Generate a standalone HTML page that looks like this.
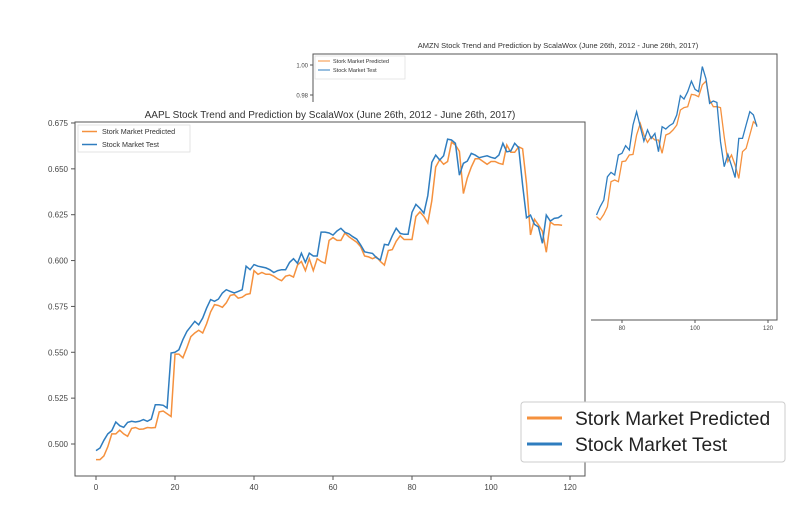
<!DOCTYPE html>
<html><head><meta charset="utf-8"><style>
html,body{margin:0;padding:0;background:#fff;}
svg{display:block;font-family:"Liberation Sans",sans-serif;}
</style></head><body>
<svg id="chart" width="807" height="509" viewBox="0 0 807 509">
<defs>
<clipPath id="amznClip"><rect x="313" y="54" width="464" height="266"/></clipPath>
<clipPath id="aaplClip"><rect x="76" y="123" width="509" height="353"/></clipPath>
</defs>
<g id="amzn"></g>
<rect x="0" y="102" width="591" height="407" fill="#fff"/>
<g id="aapl"></g>
<g>
<rect x="521" y="402" width="264" height="60" rx="3" fill="#fff" stroke="#ccc" stroke-width="1"/>
<line x1="527" y1="418" x2="562" y2="418" stroke="#f5913e" stroke-width="3"/>
<text x="575" y="425" font-size="19.2" fill="#222">Stork Market Predicted</text>
<line x1="527" y1="444" x2="562" y2="444" stroke="#2f7dbf" stroke-width="3"/>
<text x="575" y="451" font-size="19.2" fill="#222">Stock Market Test</text>
</g>
</svg>
<script>
const aaplTest=[0.4964,0.4978,0.5020,0.5055,0.5073,0.5120,0.5100,0.5091,0.5118,0.5124,0.5120,0.5124,0.5133,0.5124,0.5136,0.5214,0.5214,0.5211,0.5196,0.5496,0.5500,0.5514,0.5569,0.5614,0.5641,0.5669,0.5650,0.5687,0.5741,0.5787,0.5778,0.5790,0.5823,0.5841,0.5832,0.5823,0.5832,0.5841,0.5969,0.5950,0.5978,0.5969,0.5965,0.5960,0.5950,0.5935,0.5945,0.5950,0.5950,0.5990,0.6010,0.5985,0.6040,0.5990,0.6040,0.6025,0.6025,0.6155,0.6155,0.6150,0.6139,0.6161,0.6176,0.6154,0.6146,0.6130,0.6117,0.6085,0.6048,0.6043,0.6039,0.6016,0.6003,0.6088,0.6085,0.6135,0.6176,0.6148,0.6143,0.6143,0.6263,0.6306,0.6285,0.6258,0.6354,0.6535,0.6575,0.6548,0.6571,0.6662,0.6657,0.6639,0.6466,0.6530,0.6542,0.6584,0.6575,0.6561,0.6566,0.6571,0.6563,0.6557,0.6575,0.6639,0.6593,0.6597,0.6639,0.6615,0.6412,0.6233,0.6248,0.6197,0.6184,0.6094,0.6248,0.6215,0.6230,0.6233,0.6248];
const aaplPred=[0.4915,0.4915,0.4935,0.4985,0.5055,0.5055,0.5075,0.5055,0.5042,0.5085,0.5090,0.5080,0.5082,0.5090,0.5088,0.5090,0.5175,0.5180,0.5165,0.5150,0.5490,0.5490,0.5470,0.5525,0.5585,0.5605,0.5620,0.5605,0.5655,0.5720,0.5760,0.5755,0.5745,0.5770,0.5810,0.5815,0.5795,0.5800,0.5815,0.5820,0.5945,0.5925,0.5935,0.5925,0.5925,0.5915,0.5900,0.5890,0.5915,0.5920,0.5910,0.5975,0.5995,0.5945,0.6010,0.5945,0.6010,0.5995,0.5985,0.6110,0.6125,0.6110,0.6110,0.6150,0.6130,0.6115,0.6100,0.6075,0.6025,0.6020,0.6010,0.6020,0.5995,0.5975,0.6055,0.6060,0.6105,0.6135,0.6115,0.6115,0.6115,0.6240,0.6265,0.6240,0.6205,0.6325,0.6510,0.6550,0.6525,0.6540,0.6645,0.6630,0.6595,0.6365,0.6450,0.6510,0.6555,0.6555,0.6540,0.6525,0.6540,0.6540,0.6530,0.6525,0.6630,0.6590,0.6590,0.6620,0.6610,0.6420,0.6140,0.6225,0.6195,0.6160,0.6045,0.6210,0.6195,0.6195,0.6192];
const aaplYTicks=["0.500","0.525","0.550","0.575","0.600","0.625","0.650","0.675"];
const aaplXTicks=["0","20","40","60","80","100","120"];
const amznStart=73;
const amznTest=[0.9000,0.9055,0.9100,0.9255,0.9284,0.9267,0.9400,0.9411,0.9462,0.9433,0.9600,0.9689,0.9589,0.9493,0.9567,0.9511,0.9544,0.9422,0.9589,0.9573,0.9596,0.9611,0.9667,0.9795,0.9773,0.9822,0.9893,0.9838,0.9822,0.9989,0.9907,0.9744,0.9760,0.9751,0.9489,0.9322,0.9404,0.9329,0.9249,0.9511,0.9511,0.9600,0.9689,0.9667,0.9589];
const amznPred=[0.8989,0.8967,0.9004,0.9055,0.9222,0.9233,0.9222,0.9356,0.9360,0.9400,0.9404,0.9533,0.9611,0.9533,0.9484,0.9522,0.9500,0.9500,0.9411,0.9533,0.9544,0.9567,0.9600,0.9700,0.9716,0.9722,0.9804,0.9800,0.9789,0.9867,0.9893,0.9767,0.9722,0.9722,0.9716,0.9522,0.9356,0.9400,0.9333,0.9244,0.9422,0.9444,0.9533,0.9622,0.9600];
const amznYTicks=["0.98","1.00"];
const amznXTicks=["80","100","120"];

const NS="http://www.w3.org/2000/svg";
function mk(parent,tag,attrs){const e=document.createElementNS(NS,tag);for(const k in attrs)e.setAttribute(k,attrs[k]);parent.appendChild(e);return e;}
const ORANGE="#f5913e",BLUE="#2f7dbf";

const ax2=v=>622+(v-80)*3.65;
const ay2=v=>65+(1-v)*1500;
const amzn=document.getElementById('amzn');
let t=mk(amzn,'text',{x:558,y:48,'font-size':7.5,'text-anchor':'middle',fill:'#333'});
t.textContent="AMZN Stock Trend and Prediction by ScalaWox (June 26th, 2012 - June 26th, 2017)";


let fr=mk(amzn,'rect',{x:313,y:54,width:464,height:266,fill:'none',stroke:'#555','stroke-width':1});


amznYTicks.forEach(s=>{const y=ay2(parseFloat(s));
 const l=mk(amzn,'line',{x1:310,y1:y,x2:313,y2:y,stroke:'#555'});
 
 
 const tx=mk(amzn,'text',{x:308,y:y+2.5,'font-size':6,'text-anchor':'end',fill:'#444'});tx.textContent=s;
 
 });
amznXTicks.forEach(s=>{const x=ax2(parseFloat(s));
 const l=mk(amzn,'line',{x1:x,y1:320,x2:x,y2:323,stroke:'#555'});
 
 
 const tx=mk(amzn,'text',{x:x,y:330,'font-size':6,'text-anchor':'middle',fill:'#444'});tx.textContent=s;
 
 });
function path(arr,start,fx,fy){return arr.map((v,i)=>(i?'L':'M')+fx(start+i).toFixed(1)+','+fy(v).toFixed(1)).join('');}
let p=mk(amzn,'path',{d:path(amznPred,amznStart,ax2,ay2),fill:'none',stroke:ORANGE,'stroke-width':1.3,'clip-path':'url(#amznClip)'});


p=mk(amzn,'path',{d:path(amznTest,amznStart,ax2,ay2),fill:'none',stroke:BLUE,'stroke-width':1.3,'clip-path':'url(#amznClip)'});


let lg=mk(amzn,'rect',{x:315,y:56,width:90,height:23,fill:'#fff',stroke:'#ddd','stroke-width':0.7});


[[ORANGE,"Stork Market Predicted",61],[BLUE,"Stock Market Test",70]].forEach(([c,s,y])=>{
 const l=mk(amzn,'line',{x1:318,y1:y,x2:330,y2:y,stroke:c,'stroke-width':1});
 
 
 const tx=mk(amzn,'text',{x:333,y:y+2,'font-size':5.5,fill:'#333'});tx.textContent=s;
 
 });

const ax=v=>96+v*3.95;
const ay=v=>444-(v-0.5)/0.025*45.86;
const aapl=document.getElementById('aapl');
t=mk(aapl,'text',{x:330,y:118,'font-size':10,'text-anchor':'middle',fill:'#333'});
t.textContent="AAPL Stock Trend and Prediction by ScalaWox (June 26th, 2012 - June 26th, 2017)";


fr=mk(aapl,'rect',{x:75,y:122,width:510,height:354,fill:'none',stroke:'#555','stroke-width':1});


aaplYTicks.forEach(s=>{const y=ay(parseFloat(s));
 const l=mk(aapl,'line',{x1:71,y1:y,x2:75,y2:y,stroke:'#555'});
 
 
 const tx=mk(aapl,'text',{x:68,y:y+3,'font-size':8,'text-anchor':'end',fill:'#444'});tx.textContent=s;
 
 });
aaplXTicks.forEach(s=>{const x=ax(parseFloat(s));
 const l=mk(aapl,'line',{x1:x,y1:476,x2:x,y2:480,stroke:'#555'});
 
 
 const tx=mk(aapl,'text',{x:x,y:490,'font-size':8,'text-anchor':'middle',fill:'#444'});tx.textContent=s;
 
 });
p=mk(aapl,'path',{d:path(aaplPred,0,ax,ay),fill:'none',stroke:ORANGE,'stroke-width':1.5,'clip-path':'url(#aaplClip)'});


p=mk(aapl,'path',{d:path(aaplTest,0,ax,ay),fill:'none',stroke:BLUE,'stroke-width':1.5,'clip-path':'url(#aaplClip)'});


lg=mk(aapl,'rect',{x:78,y:125,width:112,height:27,fill:'#fff',stroke:'#ddd','stroke-width':0.8});


[[ORANGE,"Stork Market Predicted",131.5],[BLUE,"Stock Market Test",144.5]].forEach(([c,s,y])=>{
 const l=mk(aapl,'line',{x1:82,y1:y,x2:97,y2:y,stroke:c,'stroke-width':1.5});
 
 
 const tx=mk(aapl,'text',{x:102,y:y+2.5,'font-size':7.2,fill:'#333'});tx.textContent=s;
 
 });
</script>
</body></html>
